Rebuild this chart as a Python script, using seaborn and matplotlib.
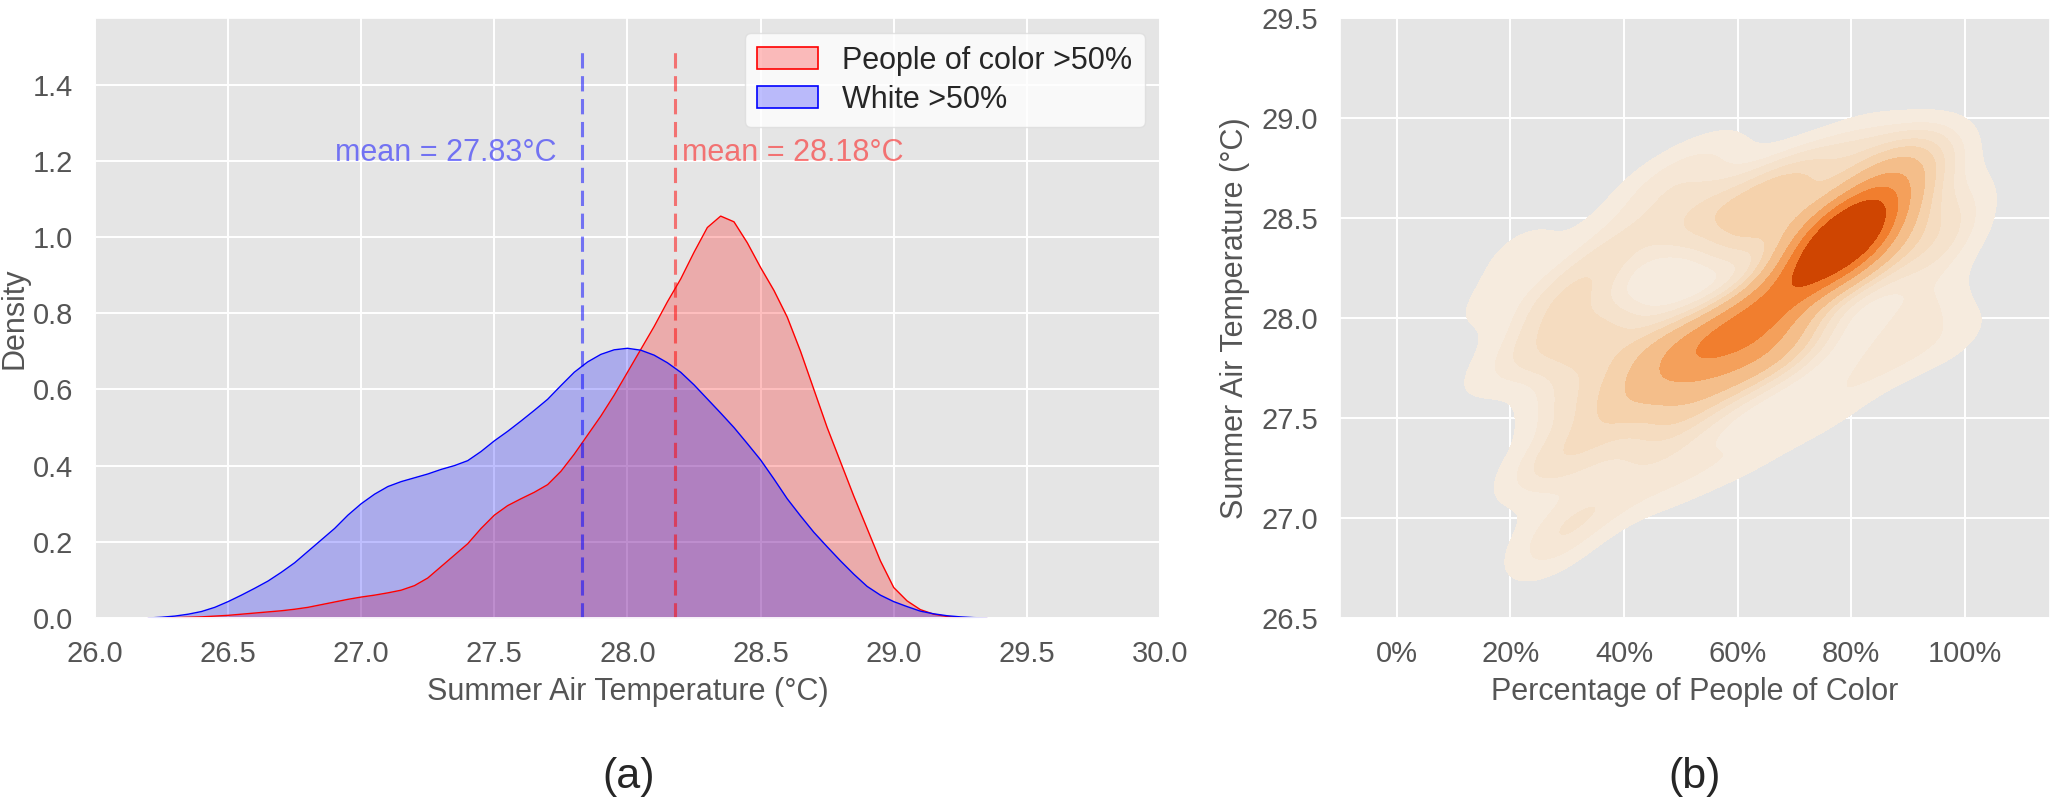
import numpy as np
import pandas as pd
import seaborn as sns
import matplotlib.pyplot as plt
from matplotlib.colors import ListedColormap
from matplotlib.patches import Patch
from matplotlib.ticker import PercentFormatter

# ---- panel (a): density curves ----
temp_grid = [26.20, 26.25, 26.30, 26.35, 26.40, 26.45, 26.50, 26.55, 26.60, 26.65,
             26.70, 26.75, 26.80, 26.85, 26.90, 26.95, 27.00, 27.05, 27.10, 27.15,
             27.20, 27.25, 27.30, 27.35, 27.40, 27.45, 27.50, 27.55, 27.60, 27.65,
             27.70, 27.75, 27.80, 27.85, 27.90, 27.95, 28.00, 28.05, 28.10, 28.15,
             28.20, 28.25, 28.30, 28.35, 28.40, 28.45, 28.50, 28.55, 28.60, 28.65,
             28.70, 28.75, 28.80, 28.85, 28.90, 28.95, 29.00, 29.05, 29.10, 29.15,
             29.20, 29.25, 29.30, 29.35]
density_poc = [0.000, 0.000, 0.001, 0.002, 0.003, 0.005, 0.007, 0.010, 0.013, 0.016,
               0.019, 0.023, 0.028, 0.035, 0.042, 0.049, 0.055, 0.060, 0.066, 0.073,
               0.085, 0.105, 0.135, 0.165, 0.195, 0.235, 0.270, 0.295, 0.313, 0.330,
               0.350, 0.385, 0.430, 0.480, 0.530, 0.585, 0.645, 0.705, 0.765, 0.830,
               0.890, 0.960, 1.025, 1.055, 1.040, 0.985, 0.920, 0.860, 0.790, 0.700,
               0.600, 0.500, 0.410, 0.320, 0.235, 0.150, 0.080, 0.045, 0.022, 0.010,
               0.004, 0.001, 0.000, 0.000]
density_white = [0.000, 0.002, 0.005, 0.010, 0.017, 0.028, 0.043, 0.060, 0.078, 0.097,
                 0.120, 0.145, 0.175, 0.205, 0.235, 0.270, 0.300, 0.325, 0.345, 0.358,
                 0.368, 0.378, 0.390, 0.400, 0.413, 0.437, 0.465, 0.490, 0.517, 0.545,
                 0.574, 0.610, 0.645, 0.672, 0.692, 0.704, 0.708, 0.703, 0.690, 0.670,
                 0.645, 0.612, 0.575, 0.538, 0.500, 0.458, 0.415, 0.365, 0.313, 0.268,
                 0.225, 0.187, 0.150, 0.115, 0.083, 0.060, 0.043, 0.030, 0.018, 0.011,
                 0.006, 0.003, 0.001, 0.000]
mean_poc = 28.18
mean_white = 27.83
group_labels = ['People of color >50%', 'White >50%']

# ---- panel (b): hand-placed points approximating the 2D density ----
pct_poc = [0.79, 0.76, 0.83, 0.82, 0.84, 0.75, 0.72,
           0.68, 0.63, 0.58, 0.53, 0.65, 0.88,
           0.53, 0.62, 0.65,
           0.45, 0.50, 0.58, 0.70,
           0.30, 0.35, 0.25, 0.38, 0.40, 0.48, 0.30,
           0.33, 0.25, 0.38, 0.28, 0.50, 0.62, 0.75, 0.27,
           0.95, 0.92, 0.98, 0.93, 0.86, 0.97,
           0.45, 0.22, 0.15, 0.15, 0.55, 0.70, 0.80]
temp_air = [28.40, 28.33, 28.50, 28.28, 28.62, 28.48, 28.22,
            28.10, 28.00, 27.92, 27.88, 27.85, 28.80,
            28.50, 28.42, 28.62,
            27.85, 27.70, 27.68, 27.85,
            28.10, 27.90, 27.85, 28.35, 27.60, 27.45, 27.60,
            27.35, 27.25, 27.10, 26.95, 27.20, 27.35, 27.55, 26.82,
            28.35, 28.05, 27.90, 28.75, 27.80, 28.55,
            28.65, 28.35, 28.05, 27.70, 28.80, 28.70, 28.85]
point_weight = [3.5, 2.5, 2.5, 2, 1.5, 1.5, 1.5,
                1.8, 1.8, 1.8, 1.7, 1.5, 1.3,
                1.5, 1.5, 1.3,
                1.6, 1.6, 1.4, 1.3,
                1.5, 1.6, 1.0, 1.0, 1.4, 1.4, 1.0,
                1.0, 0.9, 0.8, 0.7, 0.7, 0.7, 0.7, 0.6,
                1.1, 0.8, 0.6, 1.0, 0.8, 0.8,
                0.8, 0.6, 0.5, 0.4, 0.7, 0.9, 0.8]

sns.set_theme(style='darkgrid', rc={
    'axes.facecolor': '#E5E5E5',
    'grid.color': 'white',
    'grid.linewidth': 1.4,
    'xtick.color': '#555555',
    'ytick.color': '#555555',
    'axes.labelcolor': '#555555',
    'xtick.major.pad': 10,
    'ytick.major.pad': 10,
})
plt.rcParams['font.family'] = ['Liberation Sans', 'DejaVu Sans']

fig = plt.figure(figsize=(20.5, 7.99), dpi=100)
ax1 = fig.add_axes([0.04634, 0.22653, 0.5195, 0.75094])
ax2 = fig.add_axes([0.65366, 0.22653, 0.34634, 0.75094])

# (a) density curves
df_a = pd.DataFrame({'temp': temp_grid, 'poc': density_poc, 'white': density_white})
ax1.fill_between(df_a['temp'], df_a['poc'], color='red', alpha=0.25, lw=0)
sns.lineplot(data=df_a, x='temp', y='poc', color='red', lw=1, ax=ax1)
ax1.fill_between(df_a['temp'], df_a['white'], color='blue', alpha=0.25, lw=0)
sns.lineplot(data=df_a, x='temp', y='white', color='blue', lw=1, ax=ax1)

ax1.vlines(mean_white, 0, 1.5, color='blue', alpha=0.5, lw=2.2, linestyles=(0, (5, 2.5)))
ax1.vlines(mean_poc, 0, 1.5, color='red', alpha=0.5, lw=2.2, linestyles=(0, (5, 2.5)))
ax1.text(mean_white - 0.095, 1.2, f'mean = {mean_white:.2f}°C', color='blue', alpha=0.5,
         ha='right', va='baseline', fontsize=22)
ax1.text(mean_poc + 0.025, 1.2, f'mean = {mean_poc:.2f}°C', color='red', alpha=0.5,
         ha='left', va='baseline', fontsize=22)

ax1.set_xlim(26, 30)
ax1.set_ylim(0, 1.575)
ax1.set_xticks(np.arange(26, 30.01, 0.5))
ax1.set_yticks(np.arange(0, 1.41, 0.2))
ax1.tick_params(labelsize=21)
ax1.set_xlabel('Summer Air Temperature (°C)', fontsize=22, labelpad=6)
ax1.set_ylabel('Density', fontsize=22, labelpad=2)

handles = [Patch(facecolor=(1, 0, 0, 0.25), edgecolor='red', lw=1.2),
           Patch(facecolor=(0, 0, 1, 0.25), edgecolor='blue', lw=1.2)]
ax1.legend(handles, group_labels, loc='upper right', fontsize=22,
           frameon=True, facecolor='white', framealpha=0.8, edgecolor='#DDDDDD',
           labelspacing=0.3, borderaxespad=0.5)

# (b) 2D kde, Oranges trimmed at the dark end and toned down slightly
orange_cols = [(r * 0.965, g * 0.97, b * 0.965) for r, g, b in sns.color_palette('Oranges', 256)[:232]]
oranges = ListedColormap(orange_cols)
df_b = pd.DataFrame({'pct': pct_poc, 'temp': temp_air, 'w': point_weight})
sns.kdeplot(data=df_b, x='pct', y='temp', weights='w', fill=True, cmap=oranges,
            levels=10, thresh=0.05, bw_method=0.32, ax=ax2)
ax2.set_xlim(-0.1, 1.15)
ax2.set_ylim(26.5, 29.5)
ax2.set_xticks(np.arange(0, 1.01, 0.2))
ax2.set_yticks(np.arange(26.5, 29.51, 0.5))
ax2.xaxis.set_major_formatter(PercentFormatter(1.0, decimals=0))
ax2.tick_params(labelsize=21)
ax2.set_xlabel('Percentage of People of Color', fontsize=22, labelpad=6)
ax2.set_ylabel('Summer Air Temperature (°C)', fontsize=22, labelpad=8)

fig.text(629 / 2050, 1 - 777 / 799, '(a)', ha='center', va='center', fontsize=31)
fig.text(1695 / 2050, 1 - 777 / 799, '(b)', ha='center', va='center', fontsize=31)

fig.savefig('out.png', dpi=100, facecolor='white')
